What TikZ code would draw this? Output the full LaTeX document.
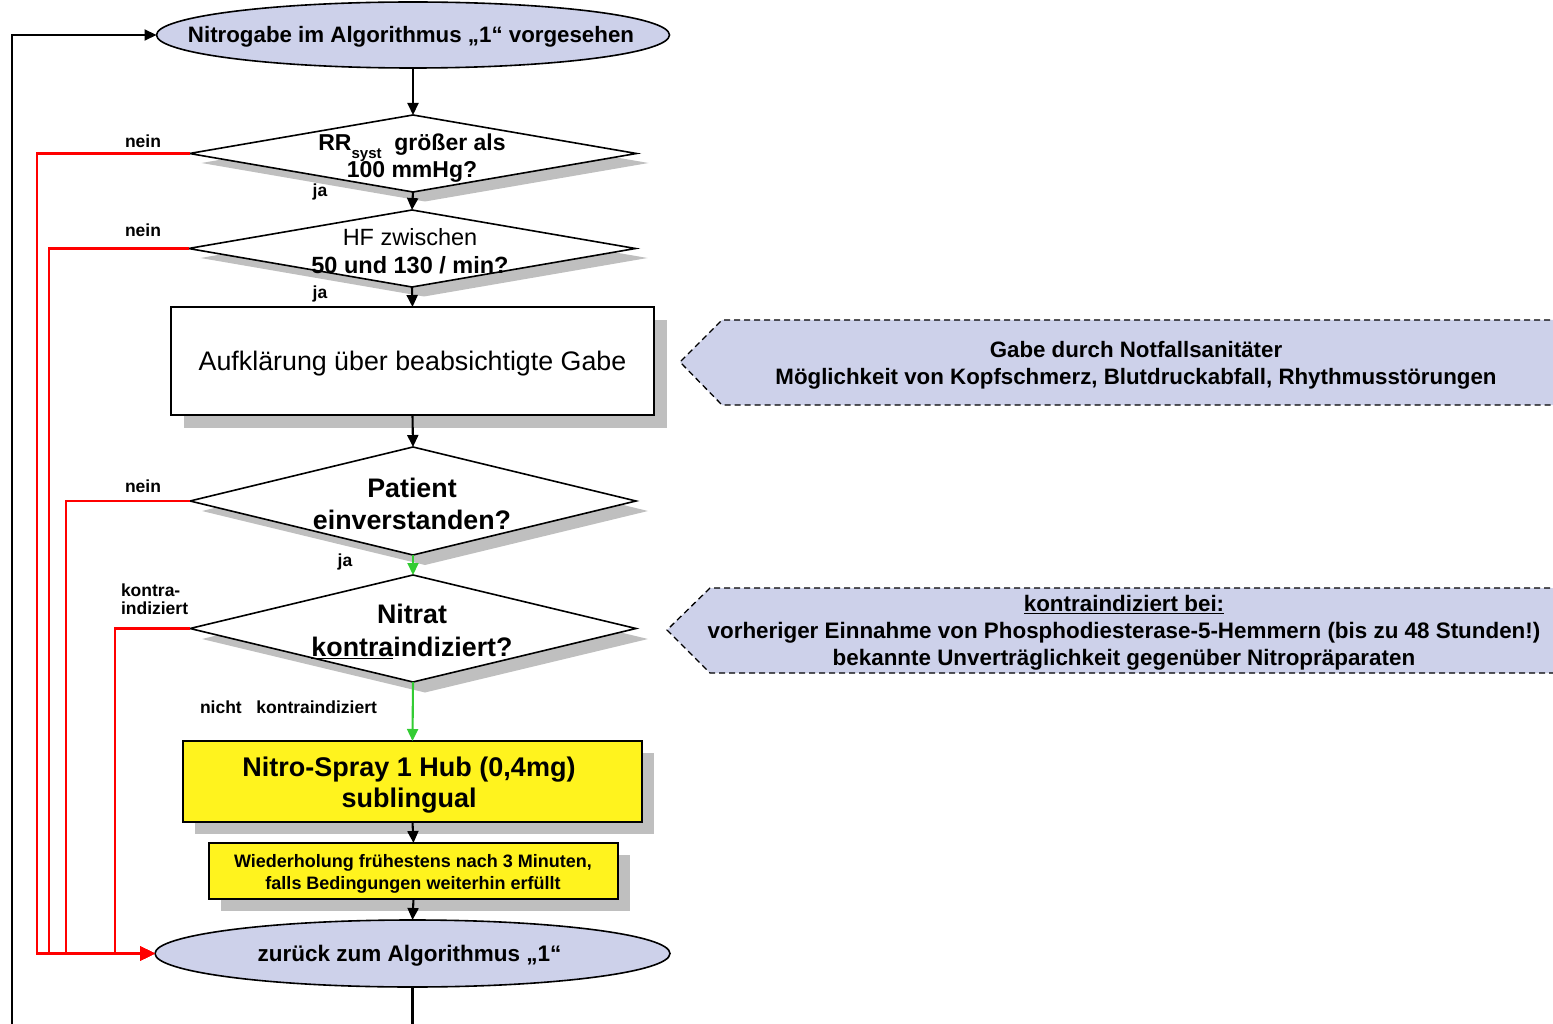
\documentclass[tikz,border=0pt]{standalone}
\usepackage{fontspec}
\setmainfont{Liberation Sans}
\usetikzlibrary{shapes.geometric,arrows.meta}

\definecolor{lav}{RGB}{205,209,234}
\definecolor{shade}{RGB}{191,191,191}
\definecolor{ylw}{RGB}{255,243,30}
\definecolor{grn}{RGB}{51,204,51}
\definecolor{rd}{RGB}{255,0,0}

\newcommand{\fsz}[1]{\fontsize{#1}{\dimexpr #1pt*6/5\relax}\selectfont}

\begin{document}
\begin{tikzpicture}[x=1pt,y=-1pt,
  every node/.style={inner sep=0pt, outer sep=0pt},
  term/.style={ellipse, draw=black, line width=1.6pt, fill=lav},
  dia/.style={diamond, draw=black, line width=1.6pt, fill=white},
  diashadow/.style={diamond, fill=shade},
  procbox/.style={rectangle, draw=black, line width=1.6pt, fill=white},
  ybox/.style={rectangle, draw=black, line width=1.6pt, fill=ylw},
  boxshadow/.style={rectangle, fill=shade},
  lbl/.style={font=\bfseries\fsz{17.5}, align=left},
  txt/.style={align=center},
  conn/.style={line width=2.1pt, draw=black, -{Triangle[length=12pt,width=11pt]}},
  okconn/.style={line width=2.1pt, draw=grn, -{Triangle[length=12pt,width=11pt]}},
  noconn/.style={line width=2.4pt, draw=rd, -{Triangle[length=15pt,width=14pt]}},
  plain/.style={line width=2.1pt, draw=black},
  note/.style={draw=black, line width=1.3pt, dashed, dash pattern=on 6pt off 4pt, fill=lav}
]
\useasboundingbox (0,0) rectangle (1553,1024);
\clip (0,0) rectangle (1553,1024);

% ---- shadows ----
\node[diashadow, minimum width=447pt, minimum height=77pt] at (425,163) {};
\node[diashadow, minimum width=447pt, minimum height=77pt] at (424,258) {};
\node[boxshadow, minimum width=483pt, minimum height=108pt] at (425,374) {};
\node[diashadow, minimum width=446pt, minimum height=108pt] at (425,511) {};
\node[diashadow, minimum width=446pt, minimum height=107pt] at (425,639) {};
\node[boxshadow, minimum width=459pt, minimum height=81pt] at (424.5,793.5) {};
\node[boxshadow, minimum width=409pt, minimum height=56pt] at (425.5,883) {};

% ---- main flow ----
\node[term, minimum width=513pt, minimum height=66pt] (start) at (413,35) {};
\node[txt, font=\bfseries\fsz{22.3}] (starttxt) at (411,37) {Nitrogabe im Algorithmus „1“ vorgesehen};

\node[dia, minimum width=447pt, minimum height=77pt] (rr) at (413,153.5) {};
\node[txt, font=\bfseries\fsz{23}] (rrtxt) at (412,158) {RR\raisebox{-0.36em}{\fsz{15}syst}\ \ größer als\\100 mmHg?};

\node[dia, minimum width=447pt, minimum height=77pt] (hf) at (412,248.5) {};
\node[txt, font=\fsz{23.5}] (hftxt) at (410,251.5) {HF zwischen\\\bfseries 50 und 130 / min?};

\node[procbox, minimum width=483pt, minimum height=108pt] (info) at (412.5,361) {};
\node[txt, font=\fsz{26.8}] (infotxt) at (412.5,364) {Aufklärung über beabsichtigte Gabe};

\node[dia, minimum width=446pt, minimum height=108pt] (pat) at (413,501) {};
\node[txt, font=\bfseries\fsz{26.8}] (pattxt) at (412,504) {Patient\\einverstanden?};

\node[dia, minimum width=446pt, minimum height=107pt] (nit) at (413,628.5) {};
\node[txt, font=\bfseries\fsz{26.8}] (nittxt) at (412,631) {Nitrat\\[1pt]\underline{kontra}indiziert?};

\node[ybox, minimum width=459pt, minimum height=81pt] (spray) at (412.5,781.5) {};
\node[txt, font=\bfseries\fsz{27}] (spraytxt) at (409,785) {Nitro-Spray 1 Hub (0,4mg)\\[-2pt]sublingual};

\node[ybox, minimum width=409pt, minimum height=56pt] (rep) at (413.5,871) {};
\node[txt, font=\bfseries\fsz{18}] (reptxt) at (413,874) {Wiederholung frühestens nach 3 Minuten,\\falls Bedingungen weiterhin erfüllt};

\node[term, minimum width=515pt, minimum height=67pt] (back) at (412.5,953.5) {};
\node[txt, font=\bfseries\fsz{22.5}] (backtxt) at (409.5,956) {zurück zum Algorithmus „1“};

% ---- connectors ----
\draw[conn] (start.south) -- (rr.north);
\draw[conn] (rr.south) -- (hf.north);
\draw[conn] (hf.south) -- (info.north);
\draw[conn] (info.south) -- (pat.north);
\draw[okconn] (pat.south) -- (nit.north);
\draw[okconn] (nit.south) -- (spray.north);
\draw[conn] (spray.south) -- (rep.north);
\draw[conn] (rep.south) -- (back.north);

\coordinate (exitbot) at (412.5,1030);
\coordinate (loopbot) at (12,1030);
\draw[plain] (back.south) -- (exitbot);
\draw[conn] (loopbot) |- (start.west);

% rejection paths
\draw[noconn] (rr.west) -| (37,953.5) -- (back.west);
\draw[noconn] (hf.west) -| (49,953.5) -- (back.west);
\draw[noconn] (pat.west) -| (66,953.5) -- (back.west);
\draw[noconn] (nit.west) -| (115,953.5) -- (back.west);

% ---- branch labels ----
\node[lbl] (l1) at (143,141) {nein};
\node[lbl] (l2) at (143,230) {nein};
\node[lbl] (l3) at (143,486) {nein};
\node[lbl, align=left, anchor=west] (l4) at (121,599) {kontra-\\[-3pt]indiziert};
\node[lbl] (j1) at (320,192) {ja};
\node[lbl] (j2) at (320,294) {ja};
\node[lbl] (j3) at (345,562) {ja};
\node[lbl, anchor=west] (nk) at (200,707) {nicht\ \ \ kontraindiziert};

% ---- side notes ----
\draw[note] (1560,320) -- (722,320) -- (680,362) -- (722,405) -- (1560,405);
\node[txt, font=\bfseries\fsz{22.3}] (note1) at (1136,365) {Gabe durch Notfallsanitäter\\Möglichkeit von Kopfschmerz, Blutdruckabfall, Rhythmusstörungen};

\draw[note] (1560,588) -- (710,588) -- (667,630) -- (710,673) -- (1560,673);
\node[txt, font=\bfseries\fsz{22.4}] (note2) at (1124,633) {\underline{kontraindiziert bei:}\\vorheriger Einnahme von Phosphodiesterase-5-Hemmern (bis zu 48 Stunden!)\\bekannte Unverträglichkeit gegenüber Nitropräparaten};
\end{tikzpicture}
\end{document}
